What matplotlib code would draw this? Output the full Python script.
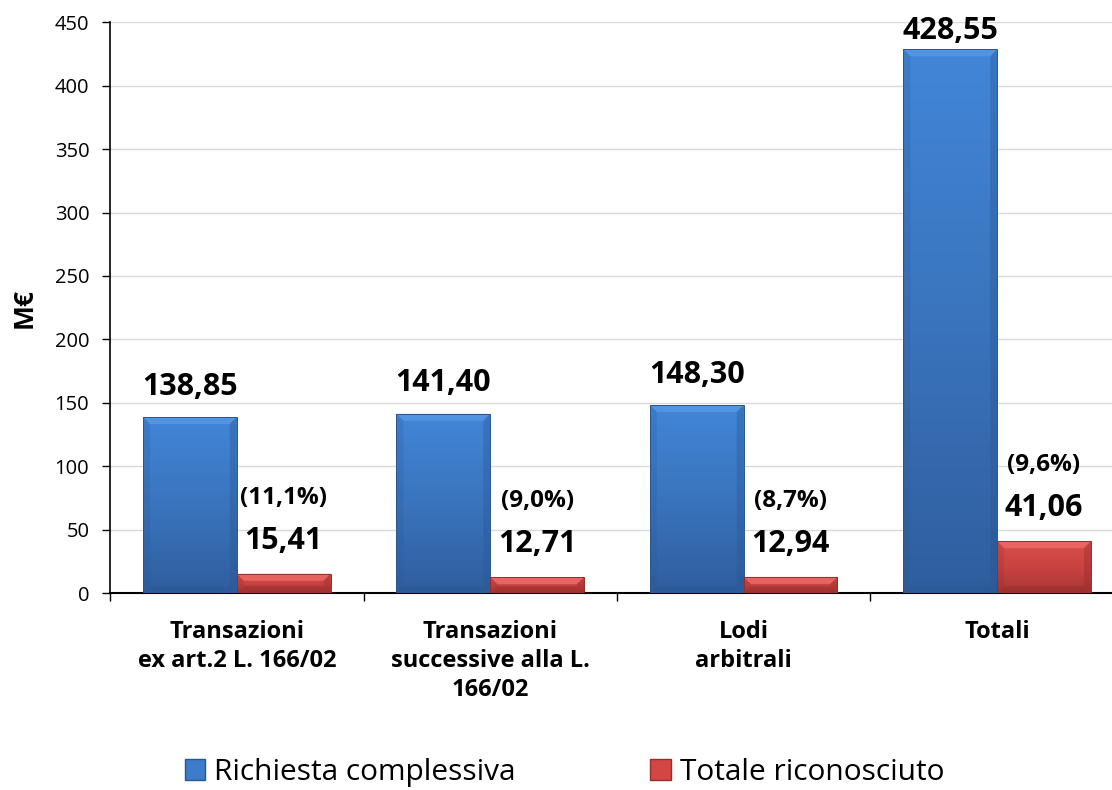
import matplotlib
matplotlib.use("Agg")
import matplotlib.pyplot as plt
import numpy as np
from matplotlib.colors import LinearSegmentedColormap
from matplotlib.patches import Polygon

categories = ["Transazioni\nex art.2 L. 166/02", "Transazioni\nsuccessive alla L.\n166/02", "Lodi\narbitrali", "Totali"]
richiesta = [138.85, 141.40, 148.30, 428.55]
riconosciuto = [15.41, 12.71, 12.94, 41.06]
percentuali = ["(11,1%)", "(9,0%)", "(8,7%)", "(9,6%)"]
series_names = ["Richiesta complessiva", "Totale riconosciuto"]
yticks = [0, 50, 100, 150, 200, 250, 300, 350, 400, 450]

plt.rcParams['font.family'] = ['Open Sans', 'DejaVu Sans']

fig = plt.figure(figsize=(11.12, 7.9), dpi=100)
ax = fig.add_axes([0.099, 0.249, 0.906, 0.723])

x = np.arange(len(categories))
w = 0.37

ax.set_xlim(-0.5, 3.475)
ax.set_ylim(0, 450)

blue_cmap = LinearSegmentedColormap.from_list("b", ["#2f5e9e", "#3a74bd", "#4286d8"])
red_cmap = LinearSegmentedColormap.from_list("r", ["#a83634", "#c94341", "#dc4f4d"])

b1 = ax.bar(x - w/2, richiesta, w, color="#3d7ccb", edgecolor="none",
            label=series_names[0], zorder=3)
b2 = ax.bar(x + w/2, riconosciuto, w, color="#d44644", edgecolor="none",
            label=series_names[1], zorder=3)

# pixel-to-data scales for bevel size
fig.canvas.draw()
p0 = ax.transData.transform((0, 0))
p1 = ax.transData.transform((1, 1))
sx = 1.0 / (p1[0] - p0[0])
sy = 1.0 / (p1[1] - p0[1])
bev = 7

grad = np.linspace(0, 1, 256).reshape(-1, 1)
for bars, cmap, light, dark, edge in ((b1, blue_cmap, "#5a9ae6", "#2a5590", "#2a568f"),
                                       (b2, red_cmap, "#ee6e6c", "#8e2a29", "#962d2c")):
    for r in bars:
        x0, y0 = r.get_x(), r.get_y()
        ww, hh = r.get_width(), r.get_height()
        im = ax.imshow(grad, cmap=cmap, aspect='auto', extent=[x0, x0 + ww, y0, y0 + hh],
                       origin='lower', zorder=3.5, interpolation='bicubic')
        im.set_clip_path(r)
        dx, dy = bev * sx, min(bev * sy, hh / 2)
        ax.add_patch(Polygon([(x0, y0 + hh), (x0 + ww, y0 + hh), (x0 + ww - dx, y0 + hh - dy),
                              (x0 + dx, y0 + hh - dy)], closed=True, facecolor=light,
                             alpha=0.75, edgecolor="none", zorder=3.6))
        ax.add_patch(Polygon([(x0 + ww, y0 + hh), (x0 + ww, y0), (x0 + ww - dx, y0 + dy),
                              (x0 + ww - dx, y0 + hh - dy)], closed=True, facecolor=dark,
                             alpha=0.35, edgecolor="none", zorder=3.6))
        ax.add_patch(Polygon([(x0, y0 + hh), (x0, y0), (x0 + dx, y0 + dy),
                              (x0 + dx, y0 + hh - dy)], closed=True, facecolor=dark,
                             alpha=0.2, edgecolor="none", zorder=3.6))
        ax.add_patch(Polygon([(x0, y0), (x0 + ww, y0), (x0 + ww - dx, y0 + dy),
                              (x0 + dx, y0 + dy)], closed=True, facecolor=dark,
                             alpha=0.4, edgecolor="none", zorder=3.6))
        ax.add_patch(plt.Rectangle((x0, y0), ww, hh, facecolor="none", edgecolor=edge,
                                   linewidth=0.7, zorder=3.7))

for xi, v in zip(x, richiesta):
    ax.text(xi - w/2, min(v + 24, 443), f"{v:.2f}".replace(".", ","), ha="center", va="center",
            fontsize=22, fontweight="bold", zorder=5, clip_on=False)
for xi, v, p in zip(x, riconosciuto, percentuali):
    ax.text(xi + w/2, v + 26, f"{v:.2f}".replace(".", ","), ha="center", va="center",
            fontsize=22, fontweight="bold", zorder=5)
    ax.text(xi + w/2, v + 60, p, ha="center", va="center",
            fontsize=17.5, fontweight="bold", zorder=5)

ax.set_yticks(yticks)
ax.set_yticklabels([str(t) for t in yticks], fontsize=14.5)
ax.set_xticks(x)
ax.set_xticklabels(categories, fontsize=17, fontweight="bold", linespacing=1.3, va="top")
ax.tick_params(axis='x', length=0, pad=19)
ax.set_xticks(np.arange(-0.5, 3.5, 1.0), minor=True)
ax.tick_params(axis='x', which='minor', length=6, width=1, direction='out')
ax.tick_params(axis='y', length=6, width=1, direction='out', pad=9)
ax.set_ylabel("M€", fontsize=19, fontweight="bold", labelpad=12)

ax.grid(axis='y', color="#d9d9d9", linewidth=1, zorder=0)
ax.set_axisbelow(True)
for s in ("top", "right"):
    ax.spines[s].set_visible(False)
ax.spines['left'].set_linewidth(1.2)
ax.spines['bottom'].set_linewidth(1.5)

leg = fig.legend(handles=[b1, b2], labels=series_names, loc="center left",
                 bbox_to_anchor=(0.166, 0.022), ncol=2, frameon=False, fontsize=21.5,
                 handlelength=0.7, handleheight=0.7, columnspacing=4.5, handletextpad=0.3,
                 borderaxespad=0, borderpad=0)
leg.legend_handles[0].set_facecolor("#3d7ccb")
leg.legend_handles[0].set_edgecolor("#2a568f")
leg.legend_handles[1].set_facecolor("#d44644")
leg.legend_handles[1].set_edgecolor("#962d2c")

fig.savefig("out.png", dpi=100)
